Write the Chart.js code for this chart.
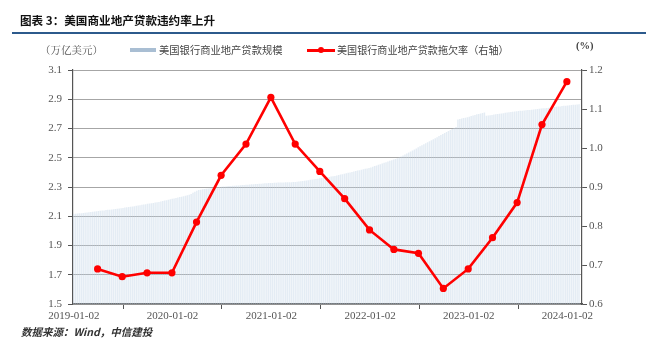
<!DOCTYPE html>
<html><head><meta charset="utf-8">
<script src="https://cdn.jsdelivr.net/npm/chart.js@4/dist/chart.umd.min.js"></script>
<style>
html,body{margin:0;padding:0;background:#fff;width:646px;height:360px;overflow:hidden;position:relative;font-family:"Noto Sans CJK SC",sans-serif;}
#c{position:absolute;left:0;top:0;}
.t{position:absolute;white-space:nowrap;}
#title{left:20px;top:12px;font-size:11.6px;font-weight:bold;color:#111;}
#rule{position:absolute;left:12px;top:32px;width:634px;height:2px;background:#2c5a8c;}
#unitL{left:40px;top:42px;font-size:10.5px;color:#555;font-family:"Noto Serif CJK SC","Noto Sans CJK SC",serif;}
#sw1{position:absolute;left:130px;top:48px;width:26px;height:4px;background:#a9bed3;}
#lg1{left:159px;top:42px;font-size:10.3px;color:#444;}
#sw2{position:absolute;left:307px;top:49px;width:28px;height:2.5px;background:#ff0000;}
#dot2{position:absolute;left:318px;top:47px;width:6px;height:6px;border-radius:50%;background:#ff0000;}
#lg2{left:337px;top:42px;font-size:10.1px;color:#444;}
#unitR{left:576px;top:40px;font-size:10.5px;color:#444;font-weight:bold;font-family:"Liberation Serif",serif;}
#src{left:21px;top:324px;font-size:10.5px;color:#333;font-style:italic;font-weight:bold;}
</style></head>
<body>
<canvas id="c" width="646" height="360"></canvas>
<div class="t" id="title">图表 3：美国商业地产贷款违约率上升</div>
<div id="rule"></div>
<div class="t" id="unitL">（万亿美元）</div>
<div id="sw1"></div><div class="t" id="lg1">美国银行商业地产贷款规模</div>
<div id="sw2"></div><div id="dot2"></div><div class="t" id="lg2">美国银行商业地产贷款拖欠率（右轴）</div>
<div class="t" id="unitR">(%)</div>
<div class="t" id="src">数据来源：Wind，中信建投</div>
<script>
// ---- data ----
const startDate = '2019-01-02';           // first weekly observation
const tickLabels = ['2019-01-02','2020-01-02','2021-01-02','2022-01-02','2023-01-02','2024-01-02'];
// weekly CRE loans at US banks (trillion USD)
const loans2019 = [2.115,2.117,2.118,2.120,2.121,2.123,2.124,2.126,2.128,2.129,
  2.131,2.132,2.134,2.136,2.137,2.139,2.140,2.142,2.144,2.145,
  2.147,2.148,2.150,2.152,2.153,2.155,2.157,2.159,2.161,2.163,
  2.165,2.167,2.169,2.171,2.173,2.176,2.178,2.180,2.182,2.185,
  2.187,2.189,2.191,2.194,2.196,2.198,2.201,2.204,2.207,2.210,
  2.213,2.216];
const loans2020 = [2.219,2.222,2.225,2.228,2.231,2.234,2.237,2.240,2.243,2.247,
  2.252,2.260,2.268,2.275,2.279,2.282,2.284,2.286,2.288,2.290,
  2.292,2.294,2.296,2.297,2.299,2.300,2.301,2.303,2.304,2.305,
  2.306,2.307,2.308,2.309,2.310,2.311,2.312,2.313,2.314,2.315,
  2.316,2.317,2.318,2.319,2.320,2.321,2.322,2.323,2.324,2.325,
  2.326,2.327];
const loans2021 = [2.328,2.328,2.329,2.329,2.330,2.330,2.331,2.331,2.332,2.332,
  2.333,2.333,2.334,2.335,2.336,2.337,2.339,2.341,2.343,2.345,
  2.347,2.349,2.351,2.353,2.355,2.357,2.359,2.361,2.363,2.365,
  2.367,2.369,2.371,2.373,2.376,2.379,2.382,2.385,2.388,2.391,
  2.394,2.397,2.400,2.403,2.406,2.409,2.412,2.415,2.418,2.421,
  2.424,2.427];
const loans2022 = [2.430,2.434,2.438,2.443,2.447,2.452,2.456,2.461,2.465,2.470,
  2.474,2.479,2.483,2.488,2.492,2.497,2.501,2.508,2.515,2.522,
  2.529,2.536,2.543,2.550,2.557,2.564,2.571,2.578,2.585,2.592,
  2.599,2.606,2.613,2.620,2.627,2.634,2.641,2.648,2.655,2.662,
  2.669,2.676,2.683,2.690,2.697,2.704,2.711,2.762,2.765,2.768,
  2.771,2.774];
const loans2023 = [2.777,2.781,2.785,2.789,2.793,2.797,2.800,2.803,2.806,2.810,
  2.787,2.789,2.791,2.793,2.795,2.797,2.799,2.801,2.803,2.805,
  2.807,2.809,2.811,2.813,2.815,2.816,2.818,2.819,2.821,2.822,
  2.823,2.825,2.826,2.827,2.829,2.830,2.832,2.833,2.835,2.836,
  2.838,2.839,2.841,2.842,2.844,2.845,2.847,2.848,2.850,2.851,
  2.853,2.855];
const loans2024 = [2.856,2.858,2.859,2.860,2.862,2.863,2.864,2.865];
// quarterly CRE loan delinquency rate (%)
const rateDates = ['2019-03-31','2019-06-30','2019-09-30','2019-12-31',
  '2020-03-31','2020-06-30','2020-09-30','2020-12-31',
  '2021-03-31','2021-06-30','2021-09-30','2021-12-31',
  '2022-03-31','2022-06-30','2022-09-30','2022-12-31',
  '2023-03-31','2023-06-30','2023-09-30','2023-12-31'];
const rates = [0.69,0.67,0.68,0.68,0.81,0.93,1.01,1.13,1.01,0.94,0.87,0.79,
  0.74,0.73,0.64,0.69,0.77,0.86,1.06,1.17];

// ---- build ----
const DAY = 86400000;
const t0 = Date.parse(startDate + 'T00:00:00Z');
const dayOf = s => Math.round((Date.parse(s + 'T00:00:00Z') - t0) / DAY);
const loans = [].concat(loans2019, loans2020, loans2021, loans2022, loans2023, loans2024);
const barData = loans.map((v, i) => ({x: i * 7, y: v}));
const lineData = rates.map((v, i) => ({x: dayOf(rateDates[i]), y: v}));
const tickDays = tickLabels.map(dayOf);

const tickFont = {family: '"Liberation Serif", serif', size: 11};
const tickColor = '#555';

new Chart(document.getElementById('c'), {
  type: 'bar',
  data: {datasets: [
    {type: 'line', data: lineData, yAxisID: 'y2', order: 0,
     borderColor: '#ff0000', backgroundColor: '#ff0000', borderWidth: 2.6,
     pointRadius: 3.6, pointBackgroundColor: '#ff0000', pointBorderWidth: 0, tension: 0},
    {type: 'bar', data: barData, yAxisID: 'y', order: 1,
     backgroundColor: 'rgba(196,212,230,0.45)', borderWidth: 0,
     barPercentage: 0.78, categoryPercentage: 1, grouped: false}
  ]},
  options: {
    responsive: false, animation: false, devicePixelRatio: 1,
    layout: {padding: {left: 0, right: 0, top: 70, bottom: 26}},
    plugins: {legend: {display: false}, tooltip: {enabled: false}},
    scales: {
      x: {type: 'linear', min: -3, max: 1880, offset: false,
        grid: {drawOnChartArea: false, drawTicks: true, tickLength: 5, tickColor: '#555'},
        border: {color: '#555', width: 1.2},
        afterBuildTicks: s => { s.ticks = tickDays.map(v => ({value: v})); },
        ticks: {autoSkip: false, maxRotation: 0, font: tickFont, color: tickColor, padding: 1,
          callback: (v, i) => tickLabels[i]},
        afterFit: s => { s.height = 30; }
      },
      y: {position: 'left', min: 1.5, max: 3.1,
        ticks: {stepSize: 0.2, font: tickFont, color: tickColor, padding: 6,
          callback: v => Number(v).toFixed(1)},
        grid: {color: '#a6a6a6', lineWidth: 1, tickColor: '#555', tickLength: 5},
        border: {color: '#555', width: 1.2},
        afterFit: s => { s.width = 73; }
      },
      y2: {position: 'right', min: 0.6, max: 1.2,
        ticks: {stepSize: 0.1, font: tickFont, color: tickColor, padding: 2,
          callback: v => Number(v).toFixed(1)},
        grid: {drawOnChartArea: false, tickColor: '#555', tickLength: 5},
        border: {color: '#555', width: 1.2},
        afterFit: s => { s.width = 64; }
      }
    }
  }
});
</script>
</body></html>
